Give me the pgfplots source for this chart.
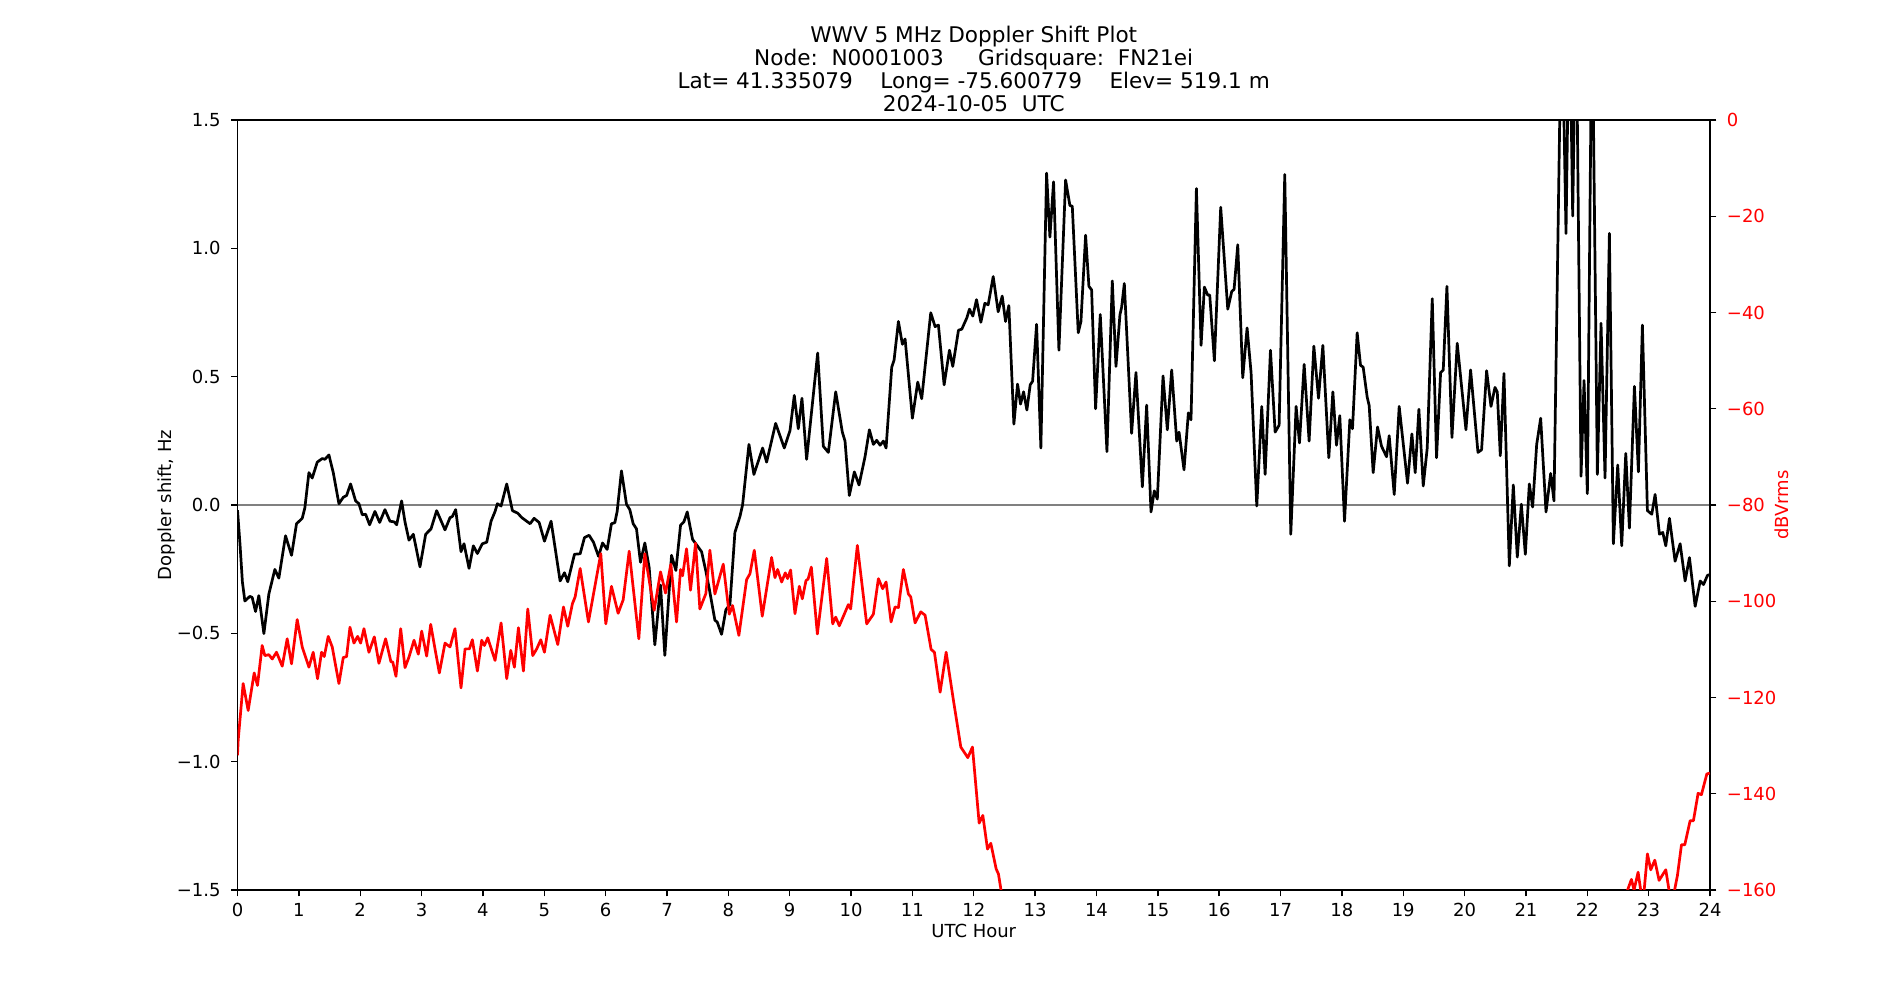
\documentclass[border=0pt]{standalone}
\usepackage{fontspec}
\setmainfont{DejaVu Sans}
\usepackage{pgfplots}
\pgfplotsset{compat=1.18}
\begin{document}
\fontsize{13}{15.6}\selectfont
\begin{tikzpicture}
\useasboundingbox (-171bp,-79.2bp) rectangle (1197bp,640.8bp);
\begin{axis}[
  at={(0,0)}, anchor=south west, scale only axis,
  width=1060.2bp, height=554.4bp,
  xmin=0, xmax=24, ymin=-1.5, ymax=1.5,
  xtick={0,1,...,24},
  ytick={-1.5,-1,-0.5,0,0.5,1,1.5},
  yticklabels={−1.5,−1.0,−0.5,0.0,0.5,1.0,1.5},
  /pgf/number format/assume math mode=true,
  xtick pos=left, ytick pos=left,
  tick align=outside, major tick length=4.5bp,
  every tick/.style={black, line width=1bp},
  axis line style={line width=1bp},
  tick label style={font=\fontsize{13}{15.6}\selectfont},
  xticklabel style={anchor=north, inner sep=0pt, yshift=-5bp},
  yticklabel style={anchor=east, inner sep=0pt, xshift=-7.5bp},
  xlabel={UTC Hour},
  ylabel={Doppler shift, Hz},
  every axis x label/.style={at={(axis description cs:0.5,-0.0534)}, anchor=center, font=\fontsize{13}{15.6}\selectfont},
  every axis y label/.style={at={(axis description cs:-0.0481,0.5)}, rotate=90, anchor=center, font=\fontsize{13}{15.6}\selectfont},
  title={WWV 5 MHz Doppler Shift Plot\\Node:~~N0001003~~~~~Gridsquare:~~FN21ei\\Lat=~41.335079~~~~Long=~-75.600779~~~~Elev=~519.1~m\\2024-10-05~~UTC},
  every axis title/.style={at={(0.5,1)}, anchor=south, yshift=5.8bp, align=center, inner sep=0pt, font=\fontsize{15.6}{16.7}\selectfont},
]
\addplot[gray, line width=0.9bp, forget plot] coordinates {(0,0) (24,0)};
\addplot[black, line width=1.95bp, line join=round] coordinates {
(0,-0.02) (0.04,-0.15) (0.08,-0.3) (0.12,-0.374) (0.201,-0.356) (0.239,-0.36) (0.294,-0.415) (0.348,-0.353)
(0.43,-0.501) (0.511,-0.347) (0.609,-0.251) (0.674,-0.285) (0.783,-0.12) (0.881,-0.196) (0.962,-0.073)
(1.055,-0.052) (1.098,-0.011) (1.164,0.126) (1.218,0.105) (1.3,0.167) (1.381,0.181) (1.425,0.178) (1.49,0.195)
(1.561,0.126) (1.653,0.005) (1.724,0.03) (1.778,0.037) (1.843,0.082) (1.925,0.016) (1.979,0.005) (2.034,-0.038)
(2.088,-0.036) (2.153,-0.077) (2.24,-0.025) (2.317,-0.068) (2.403,-0.018) (2.485,-0.063) (2.556,-0.066)
(2.594,-0.077) (2.675,0.016) (2.73,-0.066) (2.795,-0.137) (2.866,-0.114) (2.974,-0.241) (3.067,-0.114)
(3.154,-0.093) (3.246,-0.022) (3.382,-0.097) (3.464,-0.049) (3.502,-0.045) (3.556,-0.018) (3.643,-0.182)
(3.692,-0.151) (3.774,-0.247) (3.844,-0.159) (3.91,-0.189) (3.991,-0.151) (4.062,-0.145) (4.133,-0.063)
(4.198,-0.025) (4.236,0.005) (4.296,-0.004) (4.388,0.082) (4.481,-0.022) (4.568,-0.032) (4.633,-0.049)
(4.769,-0.073) (4.834,-0.052) (4.916,-0.068) (5.003,-0.141) (5.111,-0.063) (5.258,-0.296) (5.329,-0.264)
(5.383,-0.299) (5.492,-0.192) (5.585,-0.19) (5.655,-0.127) (5.731,-0.118) (5.802,-0.145) (5.884,-0.2)
(5.95,-0.148) (6.025,-0.173) (6.095,-0.073) (6.15,-0.069) (6.188,-0.025) (6.258,0.133) (6.34,0.003)
(6.394,-0.018) (6.449,-0.073) (6.503,-0.093) (6.568,-0.223) (6.639,-0.148) (6.71,-0.244) (6.802,-0.545)
(6.895,-0.312) (6.965,-0.586) (7.074,-0.196) (7.145,-0.255) (7.221,-0.079) (7.275,-0.066) (7.33,-0.027)
(7.417,-0.134) (7.482,-0.155) (7.564,-0.182) (7.634,-0.258) (7.689,-0.326) (7.781,-0.449) (7.819,-0.456)
(7.89,-0.504) (7.96,-0.408) (8.026,-0.388) (8.107,-0.107) (8.189,-0.045) (8.232,0) (8.336,0.236) (8.417,0.119)
(8.559,0.222) (8.624,0.167) (8.771,0.318) (8.912,0.222) (9.005,0.29) (9.075,0.427) (9.14,0.297) (9.2,0.416)
(9.276,0.178) (9.456,0.592) (9.548,0.229) (9.63,0.205) (9.75,0.441) (9.858,0.284) (9.902,0.249) (9.972,0.037)
(10.054,0.129) (10.13,0.078) (10.228,0.188) (10.299,0.293) (10.364,0.236) (10.418,0.252) (10.473,0.233)
(10.527,0.249) (10.571,0.222) (10.663,0.537) (10.701,0.564) (10.772,0.715) (10.837,0.626) (10.881,0.647)
(11.0,0.338) (11.087,0.479) (11.152,0.414) (11.299,0.749) (11.37,0.695) (11.424,0.701) (11.517,0.468)
(11.604,0.603) (11.658,0.54) (11.751,0.681) (11.805,0.685) (11.887,0.729) (11.93,0.763) (11.985,0.736)
(12.045,0.8) (12.116,0.712) (12.181,0.786) (12.235,0.78) (12.317,0.89) (12.398,0.753) (12.464,0.814)
(12.518,0.715) (12.572,0.777) (12.654,0.315) (12.714,0.471) (12.763,0.393) (12.812,0.441) (12.866,0.37)
(12.92,0.468) (12.959,0.482) (13.024,0.704) (13.094,0.222) (13.187,1.293) (13.241,1.044) (13.301,1.259)
(13.388,0.603) (13.497,1.266) (13.567,1.167) (13.606,1.164) (13.703,0.671) (13.747,0.715) (13.823,1.051)
(13.877,0.852) (13.921,0.838) (13.986,0.375) (14.062,0.742) (14.171,0.208) (14.258,0.873) (14.318,0.54)
(14.383,0.742) (14.41,0.77) (14.454,0.863) (14.573,0.279) (14.644,0.516) (14.748,0.071) (14.818,0.389)
(14.889,-0.027) (14.943,0.055) (14.992,0.023) (15.085,0.503) (15.155,0.293) (15.226,0.526) (15.308,0.249)
(15.346,0.284) (15.427,0.137) (15.498,0.359) (15.541,0.332) (15.629,1.233) (15.705,0.622) (15.759,0.849)
(15.813,0.818) (15.846,0.818) (15.922,0.562) (16.025,1.16) (16.14,0.763) (16.205,0.832) (16.243,0.84)
(16.303,1.014) (16.384,0.496) (16.455,0.69) (16.52,0.516) (16.613,-0.004) (16.694,0.384) (16.749,0.119)
(16.836,0.603) (16.912,0.284) (16.977,0.311) (17.069,1.288) (17.167,-0.114) (17.254,0.384) (17.309,0.242)
(17.385,0.548) (17.466,0.249) (17.543,0.619) (17.619,0.416) (17.69,0.622) (17.787,0.184) (17.853,0.441)
(17.912,0.233) (17.966,0.348) (18.043,-0.063) (18.13,0.332) (18.173,0.297) (18.249,0.671) (18.304,0.544)
(18.347,0.537) (18.412,0.421) (18.445,0.387) (18.51,0.126) (18.581,0.304) (18.646,0.229) (18.728,0.188)
(18.771,0.27) (18.853,0.041) (18.934,0.384) (19.07,0.085) (19.141,0.277) (19.195,0.126) (19.255,0.373)
(19.326,0.074) (19.391,0.222) (19.473,0.804) (19.543,0.184) (19.609,0.516) (19.652,0.526) (19.712,0.852)
(19.794,0.263) (19.88,0.63) (20.022,0.293) (20.098,0.526) (20.218,0.205) (20.277,0.215) (20.359,0.523)
(20.43,0.384) (20.495,0.458) (20.533,0.44) (20.582,0.192) (20.642,0.512) (20.729,-0.237) (20.794,0.078)
(20.859,-0.203) (20.925,0.003) (20.99,-0.192) (21.055,0.082) (21.109,-0.008) (21.175,0.236) (21.24,0.338)
(21.327,-0.027) (21.403,0.123) (21.457,0.016) (21.582,2.0) (21.653,1.058) (21.708,2.0) (21.762,1.126)
(21.816,2.0) (21.898,0.112) (21.947,0.485) (22.001,0.044) (22.077,2.0) (22.164,0.119) (22.224,0.708)
(22.289,0.105) (22.36,1.058) (22.425,-0.151) (22.496,0.156) (22.561,-0.159) (22.627,0.201) (22.686,-0.09)
(22.768,0.462) (22.833,0.129) (22.898,0.701) (22.98,-0.022) (23.051,-0.036) (23.105,0.041) (23.176,-0.114)
(23.23,-0.107) (23.279,-0.159) (23.339,-0.052) (23.431,-0.219) (23.513,-0.151) (23.594,-0.296) (23.665,-0.205)
(23.758,-0.395) (23.84,-0.296) (23.894,-0.31) (23.959,-0.274) (24.0,-0.271)
};
\end{axis}
\begin{axis}[
  at={(0,0)}, anchor=south west, scale only axis,
  width=1060.2bp, height=554.4bp,
  xmin=0, xmax=24, ymin=-160, ymax=0,
  axis x line=none, axis y line*=right,
  ytick={-160,-140,-120,-100,-80,-60,-40,-20,0},
  yticklabels={−160,−140,−120,−100,−80,−60,−40,−20,0},
  tick align=outside, major tick length=4.5bp,
  every tick/.style={black, line width=1bp},
  axis line style={line width=1bp},
  tick label style={font=\fontsize{13}{15.6}\selectfont},
  yticklabel style={anchor=west, inner sep=0pt, xshift=7.5bp, text=red},
  ylabel={dBVrms},
  every axis y label/.style={at={(axis description cs:1.049,0.5)}, rotate=90, anchor=center, text=red, font=\fontsize{13}{15.6}\selectfont},
]
\addplot[red, line width=1.95bp, line join=round] coordinates {
(0,-132) (0.011,-128.9) (0.092,-117.1) (0.174,-122.7) (0.272,-114.9) (0.326,-117.5) (0.402,-109.2) (0.446,-111.3)
(0.511,-111.1) (0.566,-112.0) (0.636,-110.6) (0.729,-113.5) (0.81,-107.8) (0.881,-113.0) (0.973,-103.8)
(1.055,-109.5) (1.164,-113.7) (1.234,-110.6) (1.305,-116.1) (1.37,-110.6) (1.414,-111.5) (1.479,-107.3)
(1.544,-109.5) (1.653,-117.1) (1.724,-111.7) (1.778,-111.5) (1.833,-105.4) (1.898,-108.7) (1.958,-107.3)
(2.007,-108.7) (2.061,-105.7) (2.142,-110.6) (2.23,-107.4) (2.305,-112.9) (2.414,-107.8) (2.501,-112.6)
(2.53,-112.6) (2.583,-115.6) (2.66,-105.7) (2.73,-113.8) (2.795,-111.6) (2.877,-108.1) (2.947,-111.0)
(3.002,-106.2) (3.083,-111.4) (3.149,-104.8) (3.219,-109.9) (3.29,-114.9) (3.382,-108.7) (3.464,-109.5)
(3.545,-105.7) (3.643,-118.0) (3.709,-109.9) (3.78,-109.9) (3.828,-108.0) (3.91,-114.5) (3.98,-108.1)
(4.024,-109.2) (4.078,-107.6) (4.198,-112.3) (4.296,-104.5) (4.388,-116.1) (4.454,-110.2) (4.513,-113.7)
(4.579,-105.5) (4.66,-114.5) (4.731,-101.6) (4.812,-111.3) (4.877,-109.9) (4.943,-108.0) (5.003,-110.6)
(5.095,-102.9) (5.22,-109.0) (5.313,-101.2) (5.383,-105.2) (5.459,-100.5) (5.503,-99.1) (5.585,-93.2)
(5.72,-104.3) (5.818,-97.4) (5.921,-90.1) (6.003,-104.7) (6.095,-96.9) (6.204,-102.5) (6.286,-99.7)
(6.384,-89.6) (6.541,-107.8) (6.639,-90.1) (6.791,-101.9) (6.895,-93.9) (6.976,-98.3) (7.063,-92.3)
(7.156,-104.3) (7.221,-93.4) (7.254,-94.7) (7.319,-89.1) (7.384,-97.7) (7.466,-87.9) (7.536,-101.6)
(7.634,-98.4) (7.699,-89.4) (7.781,-98.5) (7.917,-92.3) (8.015,-102.7) (8.069,-100.9) (8.172,-107.1)
(8.298,-95.5) (8.352,-94.3) (8.423,-89.4) (8.553,-103.1) (8.705,-90.9) (8.76,-95.1) (8.803,-93.4)
(8.869,-96.0) (8.928,-94.1) (8.966,-95.3) (9.015,-93.5) (9.086,-102.6) (9.157,-96.9) (9.206,-99.5)
(9.266,-95.7) (9.3,-95.4) (9.353,-92.9) (9.451,-106.8) (9.603,-91.1) (9.701,-104.7) (9.75,-103.3)
(9.809,-105.1) (9.956,-100.7) (9.994,-101.6) (10.103,-88.4) (10.255,-104.7) (10.364,-102.7) (10.446,-95.3)
(10.516,-97.4) (10.571,-96.0) (10.652,-104.3) (10.717,-101.2) (10.772,-101.3) (10.853,-93.4) (10.935,-98.5)
(10.973,-99.1) (11.044,-104.5) (11.136,-102.2) (11.207,-102.9) (11.305,-110.0) (11.359,-110.6) (11.452,-118.9)
(11.55,-110.6) (11.669,-120.6) (11.789,-130.3) (11.903,-132.5) (11.979,-130.3) (12.088,-146.1) (12.148,-144.5)
(12.224,-151.5) (12.278,-150.3) (12.365,-155.6) (12.403,-156.7) (12.447,-160.2) (12.55,-168)
};
\addplot[red, line width=1.95bp, line join=round] coordinates {
(22.55,-168) (22.654,-160.1) (22.719,-157.8) (22.762,-160) (22.828,-156.3) (22.871,-160.1) (22.92,-161)
(22.98,-152.5) (23.034,-155.8) (23.1,-153.8) (23.17,-158.0) (23.279,-155.8) (23.333,-160.1) (23.36,-161.5)
(23.415,-160.5) (23.469,-157.0) (23.535,-150.6) (23.589,-150.6) (23.676,-145.6) (23.73,-145.6) (23.806,-139.9)
(23.86,-140.2) (23.948,-135.9) (23.997,-135.7)
};
\end{axis}
\end{tikzpicture}
\end{document}
